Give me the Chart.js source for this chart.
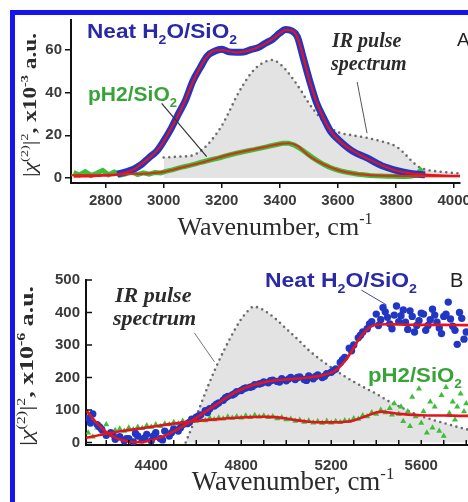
<!DOCTYPE html>
<html>
<head>
<meta charset="utf-8">
<script src="https://cdn.jsdelivr.net/npm/chart.js@4.4.1/dist/chart.umd.min.js"></script>
<style>
  html, body { margin: 0; padding: 0; background: #fff; }
  body { width: 468px; height: 502px; overflow: hidden; position: relative; }
  #frame { position: absolute; left: 10px; top: 10px; width: 600px; height: 600px;
           border-left: 5px solid #1515f2; border-top: 5px solid #1515f2; }
  .panel { position: absolute; left: 0; }
  #panelA { top: 0; }
  #panelB { top: 250px; }
</style>
</head>
<body>
<div id="frame"></div>
<div class="panel" id="panelA"><canvas id="chartA" width="500" height="250"></canvas></div>
<div class="panel" id="panelB"><canvas id="chartB" width="540" height="252"></canvas></div>
<script>
// ---- Panel A: 2700-4000 cm-1 ----
const waveA = [2690, 2720, 2750, 2780, 2810, 2840, 2870, 2900, 2925, 2950, 2975, 3000, 3025, 3050, 3075,
  3100, 3125, 3150, 3175, 3200, 3225, 3250, 3275, 3300, 3325, 3350, 3375, 3400, 3420, 3440, 3460, 3480,
  3500, 3525, 3550, 3575, 3600, 3650, 3700, 3750, 3800, 3850, 3900, 3950, 4000, 4020];
// neat water, measured points
const neatA = [null, null, null, null, null, 1.8, 2.9, 4.4, 6.5, 9.6, 12.4, 17.3, 23, 29.8, 36.4,
  45.3, 51.5, 57.2, 59.4, 60.3, 59.1, 58.9, 59, 60.2, 61.1, 63.2, 65, 68, 69.6, 69, 66.3, 56.6,
  46.8, 35.7, 28.3, 21.8, 18.2, 12.6, 9.4, 5.8, 3.6, 2.1, 1.5, null, null, null];
// neat water, fit
const neatFitA = [0.6, 0.7, 0.8, 1.0, 1.2, 1.6, 2.6, 4.2, 6.7, 9.4, 12.6, 17, 23.2, 29.5, 36.7,
  45, 51.7, 57, 59.7, 60, 59.4, 58.8, 59.2, 60, 61.3, 63, 65.2, 67.8, 69.4, 69.2, 66, 57,
  46.5, 36, 28, 22, 18, 12.8, 9.2, 6, 3.5, 2.2, 1.6, 1.2, 1.0, 1.0];

const greenWaveA = [2690, 2710, 2730, 2750, 2770, 2790, 2810, 2830, 2850, 2870, 2890, 2910, 2930, 2950,
  2970, 2990, 3010, 3030, 3050, 3070, 3090, 3110, 3130, 3150, 3170, 3190, 3210, 3230, 3250, 3270, 3290,
  3310, 3330, 3350, 3370, 3390, 3410, 3430, 3450, 3470, 3490, 3510, 3530, 3550, 3570, 3590, 3610, 3630,
  3650, 3670, 3690, 3710, 3730, 3750, 3770, 3790, 3810, 3830, 3850, 3870, 3890];
const pH2A = [2.5, 1.4, 3.0, 1.2, 2.2, 3.6, 1.5, 2.8, 1.4, 2.0, 3.0, 1.6, 2.4, 1.8,
  2.6, 2.4, 3.2, 3.8, 4.6, 5.3, 5.9, 6.6, 7.4, 8.1, 8.8, 9.4, 10.2, 10.9, 11.6, 12.2, 12.8,
  13.3, 13.9, 14.5, 15.1, 15.7, 16.3, 16.3, 15.4, 13.8, 11.8, 9.8, 8.0, 6.4, 5.1, 4.1, 3.3, 2.7,
  2.2, 1.8, 1.5, 1.2, 1.0, 0.9, 0.8, 0.8, 0.7, 0.7, 0.8, 1.4, 4.5];

const fitWaveA2 = [2680, 2750, 2800, 2850, 2900, 2950, 3000, 3050, 3100, 3150, 3200, 3250, 3300,
  3350, 3400, 3430, 3460, 3500, 3550, 3600, 3650, 3700, 3750, 3800, 3900, 4020];
const pH2FitA = [1.3, 1.4, 1.5, 1.7, 1.9, 2.2, 2.9, 4.5, 6.2, 8.0, 10.0, 11.8, 13.2,
  14.6, 16.0, 16.3, 15.1, 10.4, 6.4, 3.7, 2.2, 1.5, 1.1, 1.0, 0.9, 0.9];

const irWaveA = [3000, 3050, 3100, 3125, 3150, 3175, 3200, 3225, 3250, 3275, 3300, 3325, 3350, 3375,
  3400, 3425, 3450, 3475, 3500, 3525, 3550, 3575, 3600, 3650, 3700, 3750, 3800, 3825, 3850, 3875,
  3900, 3950, 4000, 4020];
const irA = [9.6, 10, 10.6, 12.5, 15.5, 19.5, 24.5, 31, 38, 44, 49, 52.5, 54.5, 55.3,
  53.5, 50, 45.5, 40.5, 35, 30.5, 26.5, 23.5, 21.5, 20, 18.8, 17.2, 14.8, 12, 8.5, 5.5,
  4, 3, 2.3, 2.1];

const ticksAx = [2800, 3000, 3200, 3400, 3600, 3800, 4000];
const ticksAy = [0, 20, 40, 60];

// ---- Panel B: 4100-5900 cm-1 ----
const neatWaveB = [4120, 4140, 4160, 4180, 4200, 4220, 4240, 4260, 4280, 4300,
  4320, 4340, 4360, 4380, 4400, 4420, 4440, 4460, 4480, 4500,
  4520, 4540, 4560, 4580, 4600, 4620, 4640, 4660, 4680, 4700,
  4720, 4740, 4760, 4780, 4800, 4820, 4840, 4860, 4880, 4900,
  4920, 4940, 4960, 4980, 5000, 5020, 5040, 5060, 5080, 5100,
  5120, 5140, 5160, 5180, 5200, 5220, 5240, 5260, 5280, 5300,
  5320, 5340, 5360, 5380, 5400, 5420, 5440, 5460, 5480, 5500,
  5520, 5540, 5560, 5580, 5600, 5620, 5640, 5660, 5680, 5700,
  5720, 5740, 5760, 5780, 5800];
const neatB = [75, 88, 55, 40, 22, 30, 10, 18, 5, 12,
  2, 20, 8, 25, 5, 30, 12, 35, 20, 42,
  35, 55, 58, 72, 78, 85, 98, 104, 112, 122,
  130, 142, 146, 156, 160, 168, 170, 178, 180, 186,
  184, 192, 188, 196, 190, 200, 194, 202, 194, 205,
  196, 208, 200, 212, 216, 226, 246, 262, 290, 300,
  322, 340, 350, 372, 395, 378, 402, 365, 392, 372,
  408, 348, 388, 360, 398, 345, 378, 392, 352, 388,
  432, 358, 302, 382, 340];
const neatWaveB2 = [4130, 4170, 4230, 4290, 4330, 4370, 4410, 4450, 4490, 4530,
  4570, 4610, 4650, 4690, 4730, 4770, 4810, 4850, 4890, 4930,
  4970, 5010, 5050, 5090, 5130, 5170, 5210, 5250, 5290, 5330,
  5370, 5410, 5430, 5450, 5470, 5490, 5510, 5530, 5550, 5570,
  5590, 5610, 5630, 5650, 5670, 5690, 5710, 5730, 5750, 5770, 5790];
const neatB2 = [60, 48, 25, 12, 28, 14, 20, 8, 30, 45,
  62, 82, 92, 118, 138, 150, 165, 172, 182, 190,
  186, 195, 200, 191, 203, 204, 222, 255, 282, 330,
  365, 360, 415, 385, 350, 420, 390, 370, 405, 340,
  375, 395, 360, 410, 370, 335, 395, 380, 345, 400, 318];

const neatFitWaveB = [4110, 4150, 4200, 4250, 4300, 4350, 4400, 4450, 4500, 4550, 4600, 4650, 4700,
  4750, 4800, 4850, 4900, 4950, 5000, 5050, 5100, 5150, 5200, 5230, 5260, 5290, 5320, 5350, 5380,
  5410, 5450, 5500, 5600, 5700, 5800, 5910];
const neatFitB = [100, 66, 32, 12, 3, 1, 7, 18, 34, 54, 76, 99, 122,
  145, 163, 176, 185, 191, 194, 197, 200, 205, 215, 228, 250, 280, 315, 342, 358,
  363, 364, 363, 362, 362, 361, 361];

const greenWaveB = [4120, 4140, 4160, 4180, 4200, 4220, 4240, 4260, 4280, 4300,
  4320, 4340, 4360, 4380, 4400, 4420, 4440, 4460, 4480, 4500,
  4520, 4540, 4560, 4580, 4600, 4620, 4640, 4660, 4680, 4700,
  4720, 4740, 4760, 4780, 4800, 4820, 4840, 4860, 4880, 4900,
  4920, 4940, 4960, 4980, 5000, 5020, 5040, 5060, 5080, 5100,
  5120, 5140, 5160, 5180, 5200, 5220, 5240, 5260, 5280, 5300,
  5320, 5340, 5360, 5380, 5400, 5420, 5440, 5460,
  5470, 5480, 5500, 5510, 5520, 5540, 5550, 5560, 5575, 5590,
  5600, 5610, 5625, 5640, 5650, 5660, 5680, 5690, 5700, 5710,
  5725, 5740, 5750, 5760, 5775, 5790, 5800];
const pH2B = [30, 18, 45, 25, 55, 30, 38, 42, 35, 45,
  40, 48, 44, 52, 48, 55, 50, 58, 55, 62,
  58, 66, 62, 70, 66, 72, 68, 75, 71, 76,
  73, 79, 75, 80, 76, 82, 78, 84, 79, 82,
  78, 80, 74, 77, 71, 72, 66, 69, 63, 67,
  61, 65, 60, 66, 61, 65, 62, 68, 66, 74,
  72, 83, 80, 92, 88, 100, 92, 105,
  85, 120, 88, 110, 65, 95, 50, 140, 80, 165,
  60, 95, 30, 125, 45, 110, 35, 145, 20, 170,
  90, 125, 70, 110, 150, 95, 120];

const greenFitWaveB = [4110, 4200, 4300, 4400, 4500, 4600, 4700, 4800, 4900, 4950, 5000, 5050, 5100,
  5150, 5200, 5250, 5300, 5350, 5400, 5430, 5460, 5500, 5600, 5700, 5800, 5910];
const pH2FitB = [14, 27, 38, 48, 58, 66, 72, 77, 79, 78, 74, 68, 64,
  62, 62, 63, 68, 80, 92, 95, 92, 88, 84, 83, 82, 82];

const irWaveB = [4553, 4600, 4650, 4700, 4750, 4800, 4830, 4855, 4880, 4920, 4950, 5000, 5050, 5100,
  5150, 5200, 5250, 5300, 5350, 5400, 5450, 5500, 5550, 5600, 5650, 5700, 5750, 5800, 5850, 5910];
const irB = [0, 80, 170, 250, 320, 380, 405, 418, 414, 398, 382, 350, 318, 284,
  256, 231, 208, 187, 168, 150, 129, 112, 95, 81, 70, 60, 50, 41, 34, 28];

// every 100 cm-1 gets a tick mark, only these get a label
const ticksBx = [4200, 4300, 4400, 4500, 4600, 4700, 4800, 4900, 5000, 5100, 5200, 5300, 5400,
  5500, 5600, 5700, 5800, 5900];
const labelsBx = [4400, 4800, 5200, 5600];
const ticksBy = [0, 100, 200, 300, 400, 500];

// ---- styling ----
const SANS = '"Liberation Sans", Arial, sans-serif';
const SERIF = '"Liberation Serif", "Times New Roman", serif';
const BLUE = '#2137c4';
const RED = '#e5131c';
const GREEN = '#3bbf3b';
const DOTS = '#6c6c6c';
const FILL = '#e3e3e3';
const tickFont = { family: SANS, size: 15, weight: 'bold' };

function pts(xs, ys) {
  return xs.map((x, i) => ({ x: x, y: ys[i] }));
}

// draws a run of text pieces, some raised or lowered; optional fit = target width
function drawRich(ctx, parts, size, family, align, fit) {
  const fontOf = (p) => {
    const s = p[1] ? size * 0.62 : size;
    return (p[2] || '') + ' ' + s + 'px ' + family;
  };
  const widths = parts.map(p => { ctx.font = fontOf(p); return ctx.measureText(p[0]).width; });
  const total = widths.reduce((a, b) => a + b, 0);
  if (fit) ctx.scale(fit / total, 1);
  let cx = align === 'center' ? -total / 2 : 0;
  parts.forEach((p, i) => {
    ctx.font = fontOf(p);
    const dy = p[1] === 'sub' ? size * 0.3 : p[1] === 'sup' ? -size * 0.42 : 0;
    ctx.fillText(p[0], cx, dy);
    cx += widths[i];
  });
}

const notesPlugin = {
  id: 'notes',
  afterDraw(chart, args, opts) {
    const ctx = chart.ctx;
    const sx = chart.scales.x, sy = chart.scales.y;
    ctx.save();
    ctx.textAlign = 'left';
    ctx.textBaseline = 'alphabetic';
    if (opts.innerTicks) {
      ctx.strokeStyle = '#111';
      ctx.lineWidth = 1.5;
      sx.ticks.forEach(t => {
        const px = sx.getPixelForValue(t.value);
        ctx.beginPath(); ctx.moveTo(px, sy.bottom); ctx.lineTo(px, sy.bottom - 5); ctx.stroke();
      });
      sy.ticks.forEach(t => {
        const py = sy.getPixelForValue(t.value);
        ctx.beginPath(); ctx.moveTo(sx.left, py); ctx.lineTo(sx.left + 6, py); ctx.stroke();
      });
    }
    (opts.pointers || []).forEach(l => {
      ctx.strokeStyle = l.color;
      ctx.lineWidth = l.width;
      ctx.beginPath();
      ctx.moveTo(sx.getPixelForValue(l.from[0]), sy.getPixelForValue(l.from[1]));
      ctx.lineTo(sx.getPixelForValue(l.to[0]), sy.getPixelForValue(l.to[1]));
      ctx.stroke();
    });
    (opts.texts || []).forEach(t => {
      ctx.save();
      ctx.fillStyle = t.color;
      ctx.translate(t.x, t.y);
      if (t.rotate) ctx.rotate(t.rotate);
      drawRich(ctx, t.parts, t.size, t.family, t.align, t.fit);
      ctx.restore();
    });
    ctx.restore();
  }
};

function lineSet(xs, ys, color, width, order, extra) {
  return Object.assign({
    data: pts(xs, ys), showLine: true, borderColor: color, borderWidth: width,
    pointRadius: 0, cubicInterpolationMode: 'monotone', order: order
  }, extra || {});
}

function axis(min, max, tickValues, size, tickLength) {
  return {
    type: 'linear', min: min, max: max,
    border: { color: '#111', width: 2 },
    grid: tickLength
      ? { drawOnChartArea: false, color: '#111', lineWidth: 1.5, tickLength: tickLength }
      : { drawOnChartArea: false, drawTicks: false },
    afterBuildTicks: s => { s.ticks = tickValues.map(v => ({ value: v })); },
    ticks: { autoSkip: false, maxRotation: 0, color: '#3a3a3a', font: tickFont, padding: 3,
             callback: v => String(v) },
    afterFit: s => { if (s.isHorizontal()) s.height = size; else s.width = size; }
  };
}

const yTitleParts = (exp) => [['|', ''], ['\u03c7', '', 'italic'], ['(2)', 'sup'], ['|', ''], ['2', 'sup'],
  [', ', '', 'bold'], ['x10', '', 'bold'], [exp, 'sup', 'bold'], [' a.u.', '', 'bold']];
const xTitleParts = [['Wavenumber, cm', ''], ['-1', 'sup']];
const neatParts = [['Neat H', '', 'bold'], ['2', 'sub', 'bold'], ['O/SiO', '', 'bold'], ['2', 'sub', 'bold']];
const pH2Parts = [['pH2/SiO', '', 'bold'], ['2', 'sub', 'bold']];

// ---- chart A ----
const axAx = axis(2681, 4020, ticksAx, 67, 5);
axAx.ticks.padding = 4;
const axAy = axis(-2.34, 74.06, ticksAy, 71, 6);

new Chart(document.getElementById('chartA'), {
  type: 'scatter',
  plugins: [notesPlugin],
  data: {
    datasets: [
      lineSet(waveA, neatFitA, RED, 2.2, 1),
      lineSet(fitWaveA2, pH2FitA, '#d4311a', 2.2, 1),
      lineSet(waveA, neatA, BLUE, 7, 2),
      lineSet(greenWaveA, pH2A, GREEN, 5, 3, { cubicInterpolationMode: 'default', tension: 0 }),
      lineSet(irWaveA, irA, DOTS, 2.6, 4, {
        borderDash: [0, 5.6], borderCapStyle: 'round', fill: 'origin', backgroundColor: FILL
      })
    ]
  },
  options: {
    responsive: false,
    animation: false,
    layout: { padding: { top: 20, right: 40, left: 0, bottom: 0 } },
    scales: { x: axAx, y: axAy },
    plugins: {
      legend: { display: false },
      tooltip: { enabled: false },
      notes: {
        pointers: [
          { from: [2993, 35], to: [3148, 10], color: '#333', width: 1.2 },
          { from: [3666, 45], to: [3700, 21], color: '#555', width: 1 }
        ],
        texts: [
          { x: 87, y: 38, size: 20, fit: 150, family: SANS, color: '#2a2aa6', parts: neatParts },
          { x: 88, y: 101, size: 20, fit: 89, family: SANS, color: '#39a339', parts: pH2Parts },
          { x: 332, y: 47, size: 20, family: SERIF, color: '#2b2b2b', parts: [['IR pulse', '', 'bold italic']] },
          { x: 331, y: 70, size: 20, family: SERIF, color: '#2b2b2b', parts: [['spectrum', '', 'bold italic']] },
          { x: 457, y: 46, size: 19, family: SANS, color: '#222', parts: [['A', '']] },
          { x: 36, y: 105, size: 18, fit: 144, family: SERIF, color: '#2b2b2b', rotate: -Math.PI / 2,
            align: 'center', parts: yTitleParts('-3') },
          { x: 275, y: 235, size: 26, family: SERIF, color: '#2b2b2b', align: 'center', parts: xTitleParts }
        ]
      }
    }
  }
});

// ---- chart B ----
const axBx = axis(4110, 5910, ticksBx, 57, 0);
axBx.ticks.padding = 12;
axBx.ticks.callback = v => (labelsBx.includes(v) ? String(v) : '');
const axBy = axis(-7.7, 500, ticksBy, 86, 0);
axBy.ticks.padding = 6;

new Chart(document.getElementById('chartB'), {
  type: 'scatter',
  plugins: [notesPlugin],
  data: {
    datasets: [
      lineSet(neatFitWaveB, neatFitB, RED, 2.6, 1),
      lineSet(greenFitWaveB, pH2FitB, RED, 2.6, 1),
      { data: pts(neatWaveB, neatB).concat(pts(neatWaveB2, neatB2)), pointRadius: 3.7,
        pointStyle: 'circle', backgroundColor: BLUE, borderWidth: 0, order: 2 },
      { data: pts(greenWaveB, pH2B), pointRadius: 3.5, pointStyle: 'triangle',
        backgroundColor: GREEN, borderWidth: 0, order: 3 },
      lineSet(irWaveB, irB, DOTS, 2.6, 4, {
        borderDash: [0, 5.6], borderCapStyle: 'round', fill: 'origin', backgroundColor: FILL
      })
    ]
  },
  options: {
    responsive: false,
    animation: false,
    layout: { padding: { top: 30, right: 49, left: 0, bottom: 0 } },
    scales: { x: axBx, y: axBy },
    plugins: {
      legend: { display: false },
      tooltip: { enabled: false },
      notes: {
        innerTicks: true,
        pointers: [
          { from: [4592, 337], to: [4681, 248], color: '#777', width: 1 },
          { from: [5334, 469], to: [5446, 423], color: '#4444aa', width: 1 }
        ],
        texts: [
          { x: 265, y: 37, size: 20, fit: 152, family: SANS, color: '#2a2aa6', parts: neatParts },
          { x: 368, y: 132, size: 20, fit: 94, family: SANS, color: '#39a339', parts: pH2Parts },
          { x: 115, y: 52, size: 22, family: SERIF, color: '#2b2b2b', parts: [['IR pulse', '', 'bold italic']] },
          { x: 113, y: 75, size: 22, family: SERIF, color: '#2b2b2b', parts: [['spectrum', '', 'bold italic']] },
          { x: 450, y: 37, size: 20, family: SANS, color: '#222', parts: [['B', '']] },
          { x: 33, y: 116, size: 19, fit: 160, family: SERIF, color: '#2b2b2b', rotate: -Math.PI / 2,
            align: 'center', parts: yTitleParts('-6') },
          { x: 293, y: 240, size: 27, family: SERIF, color: '#2b2b2b', align: 'center', parts: xTitleParts }
        ]
      }
    }
  }
});
</script>
</body>
</html>
